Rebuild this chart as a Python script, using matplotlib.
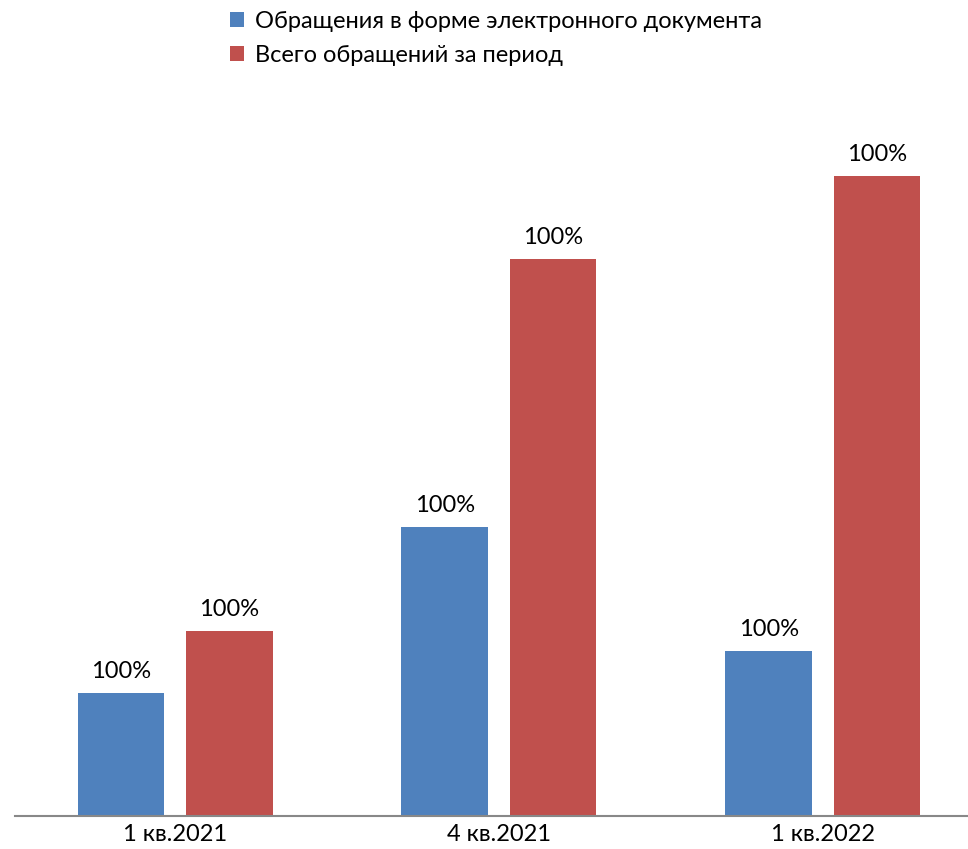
import numpy as np
import matplotlib
matplotlib.use('Agg')
import matplotlib.pyplot as plt

plt.rcParams['font.family'] = ['Lato', 'DejaVu Sans']

# данные диаграммы
periods = ['1 кв.2021', '4 кв.2021', '1 кв.2022']
electronic = [123, 289, 165]
total = [185, 557, 640]
electronic_labels = ['100%', '100%', '100%']
total_labels = ['100%', '100%', '100%']
series_names = ['Обращения в форме электронного документа', 'Всего обращений за период']

fig = plt.figure(figsize=(9.68, 8.49), dpi=100)
ax = fig.add_axes([15 / 968, (849 - 816) / 849, 953 / 968, 700 / 849])

x = np.arange(len(periods))
w = 0.268
off = 0.167
b1 = ax.bar(x - off, electronic, w, color='#4F81BD', label=series_names[0])
b2 = ax.bar(x + off, total, w, color='#C0504D', label=series_names[1])

# подписи над столбцами
for bars, labels in ((b1, electronic_labels), (b2, total_labels)):
    for rect, lab in zip(bars, labels):
        ax.text(rect.get_x() + rect.get_width() / 2, rect.get_height() + 11, lab,
                ha='center', va='bottom', fontsize=17, color='black')

ax.set_xlim(-0.494, 2.448)
ax.set_ylim(0, 700)
ax.set_xticks(x)
ax.set_xticklabels(periods, fontsize=17)
ax.tick_params(axis='x', length=0, pad=6)
ax.set_yticks([])

for s in ['top', 'right', 'left']:
    ax.spines[s].set_visible(False)
ax.spines['bottom'].set_color('#888888')
ax.spines['bottom'].set_linewidth(1.5)

fig.legend(handles=[b1, b2], loc='upper left', bbox_to_anchor=(219 / 968, 1.0),
           frameon=False, fontsize=17, handlelength=0.62, handleheight=0.62,
           handletextpad=0.45, labelspacing=0.55, borderaxespad=0.05)

fig.savefig('out.png', dpi=100)
